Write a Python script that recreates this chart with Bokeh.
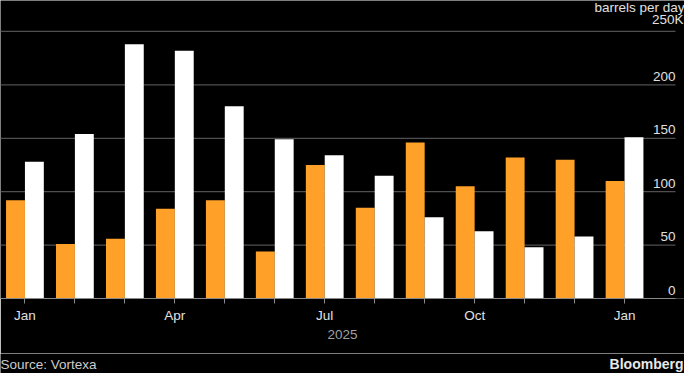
from bokeh.plotting import figure
from bokeh.layouts import column
from bokeh.models import Range1d, FixedTicker, Label, ColumnDataSource
from bokeh.embed import file_html
from bokeh.resources import INLINE
from bokeh.core.properties import value

# ---- data ----
month_index = list(range(13))
x_tick_labels = ["Jan", "", "", "Apr", "", "", "Jul", "", "", "Oct", "", "", "Jan"]
orange_vals = [92, 51, 56, 84, 92, 44, 125, 85, 146, 105, 132, 130, 110]
white_vals = [128, 154, 238, 232, 180, 149, 134, 115, 76, 63, 48, 58, 151]
y_ticks = [0, 50, 100, 150, 200, 250]
y_tick_labels = ["0", "50", "100", "150", "200", "250K"]
year_label = "2025"
unit_label = "barrels per day"
source_label = "Source: Vortexa"
brand_label = "Bloomberg"

FONT = "Liberation Sans"
ORANGE = "#FFA028"
X_START, X_END, GRID_END = -0.489, 13.2, 13.02
BAR_W = 0.378
W = 684

p = figure(width=W, height=353, output_backend="svg", toolbar_location=None,
           x_range=Range1d(X_START, X_END), y_range=Range1d(0, 279),
           min_border_left=0, min_border_right=0, min_border_top=0, min_border_bottom=55)
p.background_fill_color = "black"
p.border_fill_color = "black"
p.outline_line_color = None
p.xgrid.visible = False
p.ygrid.visible = False
p.yaxis.visible = False

# grid lines
p.segment(x0=[X_START] * len(y_ticks[1:]), x1=[GRID_END] * len(y_ticks[1:]),
          y0=y_ticks[1:], y1=y_ticks[1:], line_color="#4f4f4f", line_width=1.2)

src = ColumnDataSource(dict(
    xo=[i - BAR_W / 2 for i in month_index],
    xw=[i + BAR_W / 2 for i in month_index],
    o=orange_vals, w=white_vals))
p.vbar(x="xo", top="o", bottom=0, width=BAR_W, source=src, fill_color=ORANGE, line_color=None)
p.vbar(x="xw", top="w", bottom=0, width=BAR_W, source=src, fill_color="white", line_color=None)

# y labels (right side, above gridlines)
p.text(x=[GRID_END] * 5, y=y_ticks[:-1], text=y_tick_labels[:-1],
       text_align="right", text_baseline="bottom", y_offset=-4,
       text_font=value(FONT), text_font_size="13.5px", text_color="#e0e0e0")
p.text(x=[GRID_END], y=y_ticks[-1:], text=y_tick_labels[-1:],
       text_align="right", text_baseline="bottom", y_offset=-4, x_offset=8,
       text_font=value(FONT), text_font_size="13.5px", text_color="#e0e0e0")

# x axis
ax = p.xaxis[0]
ax.ticker = FixedTicker(ticks=month_index)
ax.major_label_overrides = {i: t for i, t in zip(month_index, x_tick_labels)}
ax.bounds = (X_START, GRID_END)
ax.axis_line_color = "#8a8a8a"
ax.major_tick_line_color = "#8a8a8a"
ax.major_tick_in = 0
ax.major_tick_out = 5
ax.minor_tick_line_color = None
ax.major_label_text_font = FONT
ax.major_label_text_font_size = "13.5px"
ax.major_label_text_color = "#e0e0e0"
ax.major_label_standoff = 4
ax.axis_label = year_label
ax.axis_label_text_font = FONT
ax.axis_label_text_font_size = "13.5px"
ax.axis_label_text_font_style = "normal"
ax.axis_label_text_color = "#a0a0a0"
ax.axis_label_standoff = 4

p.add_layout(Label(x=X_END, y=279, text=unit_label, text_align="right", text_baseline="top",
                   y_offset=1, text_font=FONT, text_font_size="13.5px", text_color="#e0e0e0"))

# footer
f = figure(width=W, height=20, output_backend="svg", toolbar_location=None,
           x_range=Range1d(0, W), y_range=Range1d(0, 20),
           x_axis_type=None, y_axis_type=None,
           min_border_left=0, min_border_right=0, min_border_top=0, min_border_bottom=0)
f.background_fill_color = "black"
f.border_fill_color = "black"
f.outline_line_color = None
f.xgrid.visible = False
f.ygrid.visible = False
f.text(x=[0], y=[2], text=[source_label], text_align="left", text_baseline="bottom",
       text_font=value(FONT), text_font_size="13.5px", text_color="#cccccc")
f.text(x=[W - 1], y=[2], text=[brand_label], text_align="right", text_baseline="bottom",
       text_font=value(FONT), text_font_size="14px", text_font_style="bold",
       text_color="#e8e8e8")

layout = column(p, f, spacing=0)
open("out.html", "w").write(file_html(layout, INLINE))
